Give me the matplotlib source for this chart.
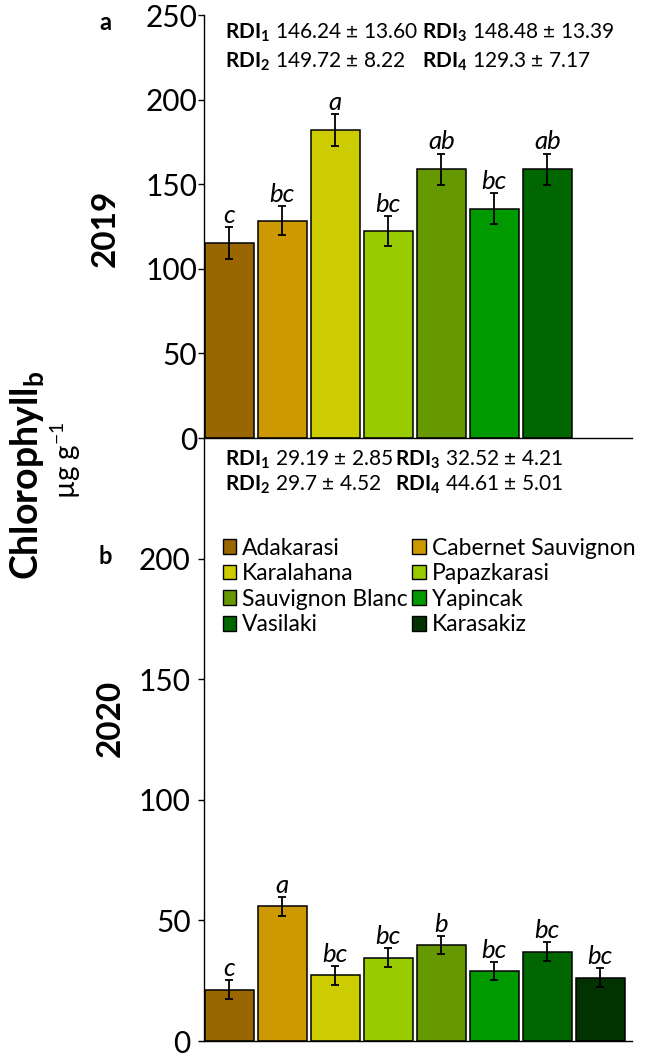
import matplotlib
matplotlib.use("Agg")
import matplotlib.pyplot as plt
from matplotlib.patches import Patch
import numpy as np

plt.rcParams["font.family"] = ["Lato", "DejaVu Sans"]
plt.rcParams["mathtext.fontset"] = "custom"
plt.rcParams["mathtext.rm"] = "Lato"
plt.rcParams["mathtext.bf"] = "Lato:bold"
plt.rcParams["mathtext.it"] = "Lato:italic"

# cultivars and bar colours
cultivars = ["Adakarasi", "Cabernet Sauvignon", "Karalahana", "Papazkarasi",
             "Sauvignon Blanc", "Yapincak", "Vasilaki", "Karasakiz"]
colors = ["#996600", "#CC9900", "#CCCC00", "#99CC00",
          "#669900", "#009900", "#006600", "#003300"]

# 2019 (no Karasakiz)
chl_2019 = [115.3, 128.4, 182.0, 122.2, 158.7, 135.6, 158.7]
err_2019 = [9.3, 8.7, 9.3, 9.0, 9.4, 9.2, 9.4]
grp_2019 = ["c", "bc", "a", "bc", "ab", "bc", "ab"]

# 2020
chl_2020 = [21.2, 55.8, 27.3, 34.6, 39.7, 29.1, 37.1, 26.3]
err_2020 = [3.9, 4.0, 3.9, 4.0, 3.7, 3.7, 3.9, 3.9]
grp_2020 = ["c", "a", "bc", "bc", "b", "bc", "bc", "bc"]

# RDI treatment means +- sd
rdi_2019 = ["146.24 ± 13.60", "149.72 ± 8.22", "148.48 ± 13.39", "129.3 ± 7.17"]
rdi_2020 = ["29.19 ± 2.85", "29.7 ± 4.52", "32.52 ± 4.21", "44.61 ± 5.01"]

fig = plt.figure(figsize=(6.48, 10.57), dpi=100)
ax_top = fig.add_axes([0.3148, 0.5856, 0.6605, 0.4002])
ax_bot = fig.add_axes([0.3148, 0.0151, 0.6605, 0.5705])


def draw_panel(ax, values, errors, groups, yticks, pad):
    x = np.arange(len(values))
    ax.bar(x, values, width=0.92, color=colors[:len(values)],
           edgecolor="black", linewidth=1.1, zorder=2)
    ax.errorbar(x, values, yerr=errors, fmt="none", ecolor="black",
                elinewidth=1.3, capsize=3.2, capthick=1.3, zorder=3)
    for xi, v, e, g in zip(x, values, errors, groups):
        ax.annotate(g, (xi, v + e), xytext=(0, 3), textcoords="offset points",
                    ha="center", va="baseline", fontsize=18.5, style="italic")
    ax.set_xlim(-0.48, 7.6)
    ax.set_ylim(0, 250)
    ax.set_yticks(yticks)
    ax.set_xticks([])
    for s in ["top", "right"]:
        ax.spines[s].set_visible(False)
    for s in ["left", "bottom"]:
        ax.spines[s].set_linewidth(1.0)
    ax.tick_params(axis="y", direction="out", length=4.5, width=1.0,
                   labelsize=21.5, pad=pad)
    ax.patch.set_alpha(0)


draw_panel(ax_top, chl_2019, err_2019, grp_2019, [0, 50, 100, 150, 200, 250], 0.5)
draw_panel(ax_bot, chl_2020, err_2020, grp_2020, [0, 50, 100, 150, 200], 5)


def rdi_block(ax, vals, xs, ys):
    for i, v in enumerate(vals):
        col, row = i // 2, i % 2
        ax.text(xs[col], ys[row], r"$\mathbf{RDI}_{\mathbf{%d}}$ %s" % (i + 1, v),
                transform=ax.transAxes, fontsize=15, ha="left", va="center")


rdi_block(ax_top, rdi_2019, [0.049, 0.509], [0.957, 0.889])
rdi_block(ax_bot, rdi_2020, [0.049, 0.446], [0.964, 0.922])

# legend filled row by row: two cultivars per row
order = [0, 2, 4, 6, 1, 3, 5, 7]
handles = [Patch(facecolor=colors[i], edgecolor="black", linewidth=1.0) for i in order]
ax_bot.legend(handles, [cultivars[i] for i in order], ncol=2, loc="upper left",
              bbox_to_anchor=(0.022, 0.85), frameon=False, fontsize=16.5,
              handlelength=0.6, handleheight=0.6, handletextpad=0.25,
              columnspacing=0.2, labelspacing=0.2, borderaxespad=0)

fig.text(105 / 648, 1 - 22 / 1057, "a", ha="center", va="center",
         fontsize=17, weight="bold")
fig.text(105 / 648, 1 - 557 / 1057, "b", ha="center", va="center",
         fontsize=17, weight="bold")
fig.text(105 / 648, 1 - 228 / 1057, "2019", ha="center", va="center",
         rotation=90, fontsize=24, weight="bold")
fig.text(110 / 648, 1 - 718 / 1057, "2020", ha="center", va="center",
         rotation=90, fontsize=24, weight="bold")
fig.text(27 / 648, 1 - 475 / 1057, r"Chlorophyll$_{\mathbf{b}}$", ha="center",
         va="center", rotation=90, fontsize=27, weight="bold")
fig.text(66 / 648, 1 - 460 / 1057, r"µg g$^{-1}$", ha="center", va="center",
         rotation=90, fontsize=20)

fig.savefig("out.png", dpi=100)
